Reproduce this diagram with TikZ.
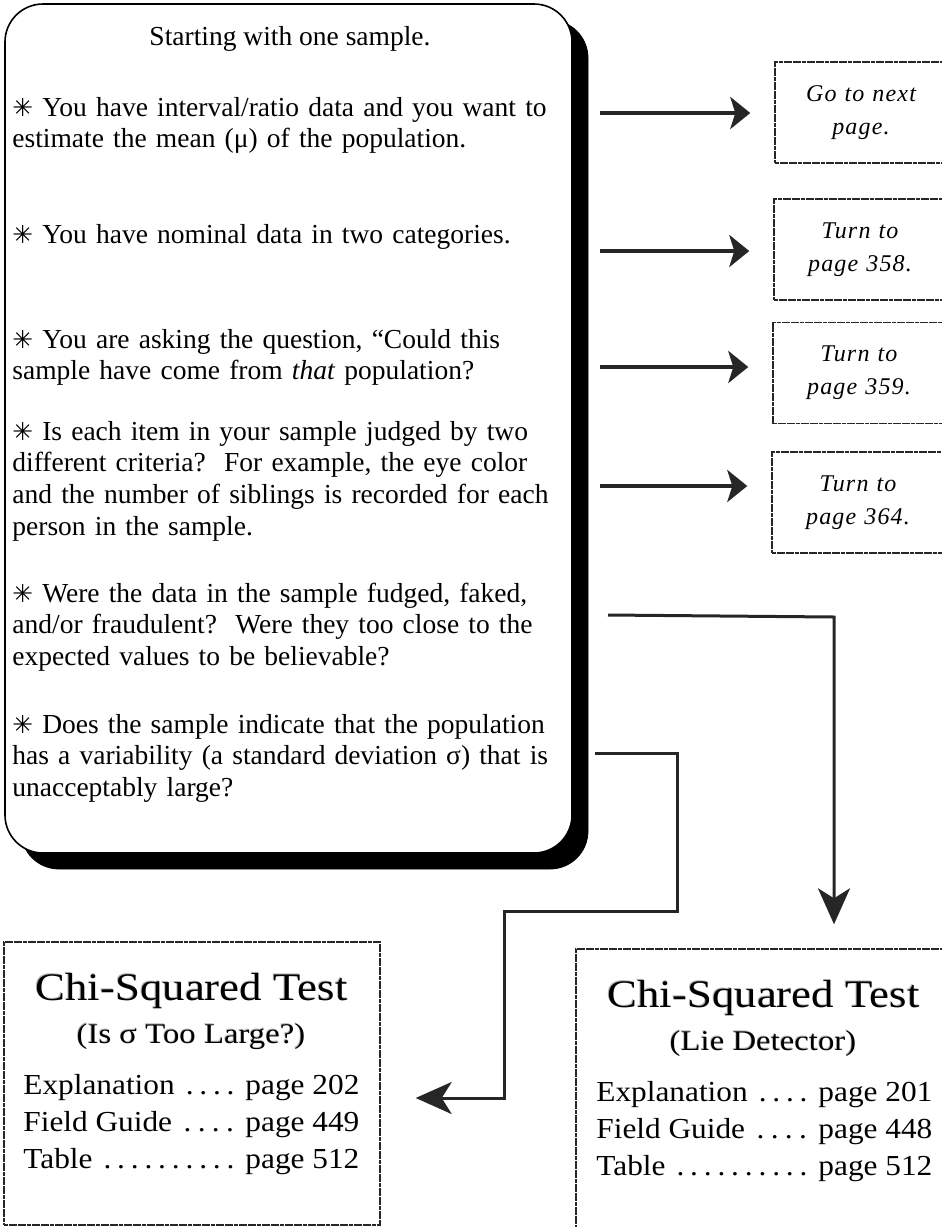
\documentclass[tikz,border=0pt]{standalone}
\usepackage{fontspec}
\setmainfont{Liberation Serif}
\newfontfamily\djv{DejaVu Sans}[Scale=0.9]
\newfontfamily\ttlfont{Liberation Serif}[FakeStretch=1.15]
\newfontfamily\bodyfont{Liberation Serif}[FakeStretch=1.08]
\newfontfamily\boxfont{Liberation Serif}[LetterSpace=5]
\usetikzlibrary{arrows.meta}
\newcommand\str{{\djv ✳}}
\newcommand\ldr[2]{\hbox to 168pt{#1\ \xleaders\hbox to 0.45em{\hss.\hss}\hfill\ #2}}
\tikzset{
  shadowbox/.style={fill=black, draw=black, rounded corners=19pt, inner sep=0pt},
  mainbox/.style={draw=black, fill=white, line width=0.8pt, rounded corners=19pt, inner sep=0pt},
  pagebox/.style={draw=black!85, line width=0.7pt, dash pattern=on 2pt off 0.3pt, fill=white, inner sep=0pt},
  item/.style={anchor=base west, inner sep=0pt, text width=290pt, align=left,
    font=\fontsize{13.75pt}{15.85pt}\selectfont},
  conn/.style={draw=black!85, line width=1.5pt},
  harrow/.style={conn, line width=2pt, shorten >=12pt, -{Stealth[length=10pt,width=16pt,inset=2.5pt]}},
  bigarrow/.style={conn, -{Stealth[length=18pt,width=16pt,inset=5pt]}},
  gotext/.style={pagebox, align=center, text width=85pt, minimum width=86pt, minimum height=50.5pt,
    font=\boxfont\itshape\fontsize{12pt}{16.5pt}\selectfont},
  ttl/.style={anchor=base, inner sep=0pt, font=\ttlfont\fontsize{19.5pt}{22pt}\selectfont},
  ttlsh/.style={ttl, text=black!30},
  subttl/.style={anchor=base, inner sep=0pt, font=\ttlfont\fontsize{14.25pt}{17pt}\selectfont},
  subttlsh/.style={subttl, text=black!30},
  refline/.style={anchor=base west, inner sep=0pt, font=\bodyfont\fontsize{14.5pt}{18pt}\selectfont},
  bigbox/.style={pagebox, minimum width=188pt, minimum height=141.5pt}
}
\begin{document}
\begin{tikzpicture}[x=0.5pt, y=-0.5pt]
\useasboundingbox (0,0) rectangle (942,1227);
\clip (0,0) rectangle (942,1227);
% main box with shadow
\node[shadowbox, minimum width=283.5pt, minimum height=424.5pt] (mainsh) at (304.5,444.5) {};
\node[mainbox, minimum width=283.5pt, minimum height=424.5pt] (main) at (288.5,428.5) {};
% texts of main box
\node[anchor=base, inner sep=0pt, font=\fontsize{13.75pt}{15.85pt}\selectfont] (start) at (290,45) {Starting with one sample.};
\node[item] (i1) at (12,116) {\str\ You have interval/ratio data and you want to\\estimate the mean (μ) of the population.};
\node[item] (i2) at (12,243) {\str\ You have nominal data in two categories.};
\node[item] (i3) at (12,348) {\str\ You are asking the question, “Could this\\sample have come from \textit{that} population?};
\node[item] (i4) at (12,440) {\str\ Is each item in your sample judged by two\\different criteria?\ \ For example, the eye color\\and the number of siblings is recorded for each\\person in the sample.};
\node[item] (i5) at (12,602) {\str\ Were the data in the sample fudged, faked,\\and/or fraudulent?\ \ Were they too close to the\\expected values to be believable?};
\node[item] (i6) at (12,733) {\str\ Does the sample indicate that the population\\has a variability (a standard deviation σ) that is\\unacceptably large?};
% right boxes
\node[gotext] (box1) at (861,112.5) {Go to next\\page.};
\node[gotext] (box2) at (860,249.5) {Turn to\\page 358.};
\node[gotext] (box3) at (859,373) {Turn to\\page 359.};
\node[gotext] (box4) at (858,502.5) {Turn to\\page 364.};
% bottom boxes
\node[bigbox] (boxL) at (192,1083.5) {};
\node[bigbox] (boxR) at (764,1090.5) {};
% left bottom box texts
\node[ttlsh] (tLs) at (190.8,999.2) {Chi-Squared Test};
\node[ttl] (tL) at (191.5,1000) {Chi-Squared Test};
\node[subttlsh] (sLs) at (190.3,1042.2) {(Is σ Too Large?)};
\node[subttl] (sL) at (191,1043) {(Is σ Too Large?)};
\node[refline] (eL) at (23,1094) {\ldr{Explanation}{page 202}};
\node[refline] (fL) at (23,1131) {\ldr{Field Guide}{page 449}};
\node[refline] (tbL) at (23,1168) {\ldr{Table}{page 512}};
% right bottom box texts
\node[ttlsh] (tRs) at (762.8,1006.2) {Chi-Squared Test};
\node[ttl] (tR) at (763.5,1007) {Chi-Squared Test};
\node[subttlsh] (sRs) at (762.3,1049.2) {(Lie Detector)};
\node[subttl] (sR) at (763,1050) {(Lie Detector)};
\node[refline] (eR) at (596,1101) {\ldr{Explanation}{page 201}};
\node[refline] (fR) at (596,1138) {\ldr{Field Guide}{page 448}};
\node[refline] (tbR) at (596,1175) {\ldr{Table}{page 512}};
% connectors
\coordinate (a1s) at (600,113);
\coordinate (a2s) at (600,251);
\coordinate (a3s) at (600,367);
\coordinate (a4s) at (600,486);
\draw[harrow] (a1s) -- (a1s -| box1.west);
\draw[harrow] (a2s) -- (a2s -| box2.west);
\draw[harrow] (a3s) -- (a3s -| box3.west);
\draw[harrow] (a4s) -- (a4s -| box4.west);
\coordinate (c5s) at (608,615);
\coordinate (c5m) at (834,617);
\draw[bigarrow, shorten >=12pt] (c5s) -- (c5m) -- (c5m |- boxR.north);
\coordinate (c6s) at (595,753);
\coordinate (c6a) at (677,753);
\coordinate (c6b) at (677,911);
\coordinate (c6c) at (504,911);
\coordinate (c6d) at (504,1098);
\draw[bigarrow, shorten >=17.5pt] (c6s) -- (c6a) -- (c6b) -- (c6c) -- (c6d) -- (c6d -| boxL.east);
\end{tikzpicture}
\end{document}
